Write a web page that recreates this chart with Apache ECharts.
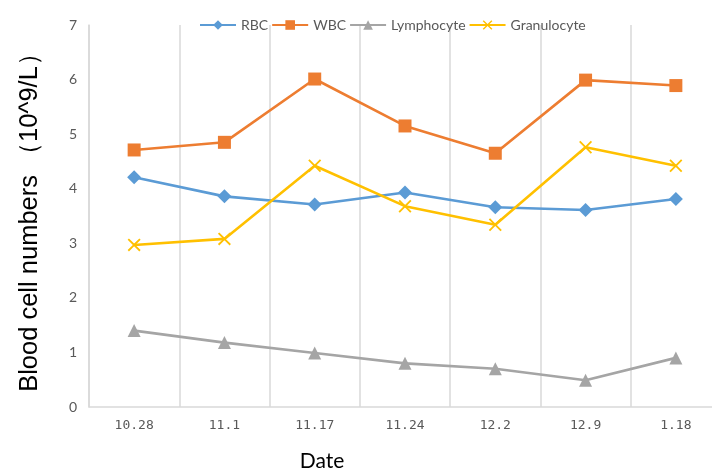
<!DOCTYPE html>
<html><head><meta charset="utf-8">
<script src="https://cdn.jsdelivr.net/npm/echarts@6/dist/echarts.min.js"></script>
<style>html,body{margin:0;padding:0;background:#fff;overflow:hidden}#c{width:730px;height:472px}</style>
</head><body><div id="c"></div>
<script>
const categories = ['10.28','11.1','11.17','11.24','12.2','12.9','1.18'];
const rbc = [4.21, 3.86, 3.71, 3.93, 3.66, 3.61, 3.81];
const wbc = [4.71, 4.85, 6.01, 5.15, 4.65, 5.99, 5.89];
const lymphocyte = [1.40, 1.18, 0.99, 0.80, 0.70, 0.49, 0.90];
const granulocyte = [2.97, 3.08, 4.42, 3.68, 3.34, 4.76, 4.42];
const yTicks = [0,1,2,3,4,5,6,7];

const X = 'path://M1,0 L5,4 L9,0 L10,1 L6,5 L10,9 L9,10 L5,6 L1,10 L0,9 L4,5 L0,1 Z';
function mk(name, data, color, symbol, size){
  return {name, type:'line', data, symbol, symbolSize:size, showAllSymbol:true,
    lineStyle:{color, width:2.6}, itemStyle:{color}, z: 3};
}
const chart = echarts.init(document.getElementById('c'));
chart.setOption({
  animation:false,
  textStyle:{fontFamily:'Lato'},
  legend:{top:13, left:194, itemWidth:36, itemHeight:12, itemGap:3,
    textStyle:{fontSize:14, color:'#595959', fontFamily:'Lato'},
    data:['RBC','WBC','Lymphocyte','Granulocyte']},
  grid:{left:89, top:25, right:9, bottom:65, containLabel:false, outerBoundsMode:'none'},
  xAxis:{type:'category', data:categories, boundaryGap:true,
    axisLine:{lineStyle:{color:'#D9D9D9', width:1.5}},
    axisTick:{show:false},
    splitLine:{show:true, lineStyle:{color:'#D9D9D9', width:1.5}},
    axisLabel:{color:'#595959', fontSize:13, margin:12, fontFamily:'DejaVu Sans Mono'},
    name:'Date', nameLocation:'middle', nameGap:44,
    nameTextStyle:{fontSize:21, color:'#000', fontFamily:'Lato', padding:[0,166,0,0]}},
  yAxis:{type:'value', min:0, max:7, interval:1,
    axisLine:{show:true, lineStyle:{color:'#D9D9D9', width:1.5}},
    axisTick:{show:false}, splitLine:{show:false},
    axisLabel:{color:'#595959', fontSize:14, margin:12, fontFamily:'Lato',
      formatter:v=>yTicks.includes(v)?String(v):''},
    name:'Blood cell numbers （10^9/L）', nameLocation:'middle', nameGap:46,
    nameTextStyle:{fontSize:25.5, color:'#000', fontFamily:'Liberation Sans', padding:[0,0,0,0]}},
  series:[
    mk('RBC', rbc, '#5B9BD5', 'diamond', 14),
    mk('WBC', wbc, '#ED7D31', 'rect', 13),
    mk('Lymphocyte', lymphocyte, '#A5A5A5', 'triangle', 13),
    mk('Granulocyte', granulocyte, '#FFC000', X, 13)
  ]
});
</script></body></html>
